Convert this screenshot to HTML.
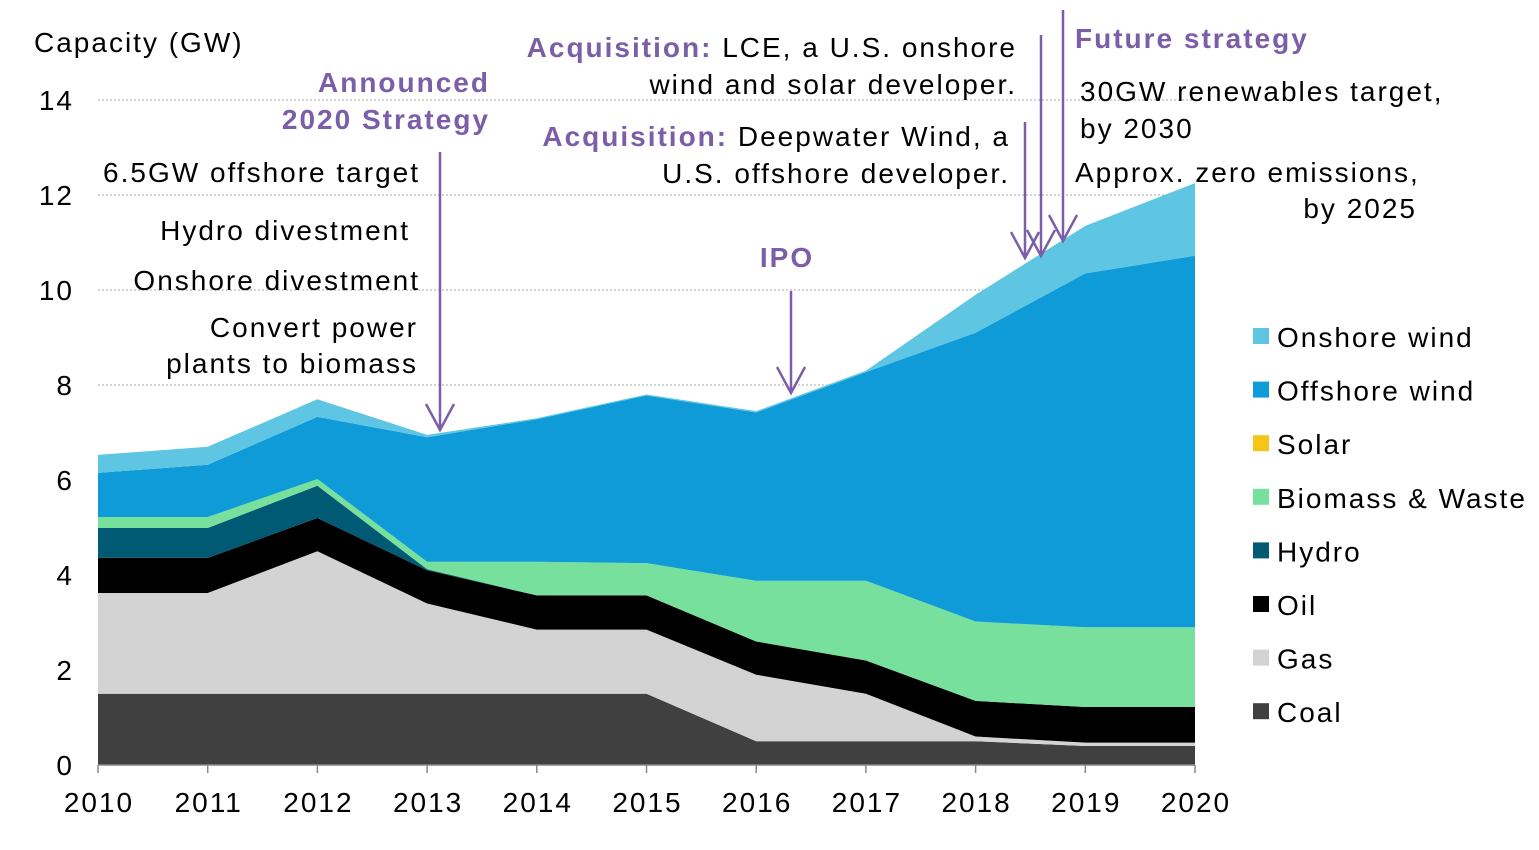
<!DOCTYPE html>
<html><head><meta charset="utf-8"><style>
body{margin:0;background:#fff;}
svg text{font-family:"Liberation Sans",Arial,sans-serif;letter-spacing:2px;}
</style></head><body>
<svg id="chart" width="1539" height="845" xmlns="http://www.w3.org/2000/svg">
<g id="grid"></g><g id="areas"></g><g id="axes"></g><g id="legend"></g>
<g id="annotations" font-size="28">
<text x="34" y="52" fill="#000">Capacity (GW)</text>
<text x="490" y="92" text-anchor="end" fill="#7b5ea7" font-weight="bold">Announced</text>
<text x="490" y="129" text-anchor="end" fill="#7b5ea7" font-weight="bold">2020 Strategy</text>
<text x="420" y="182" text-anchor="end">6.5GW offshore target</text>
<text x="410" y="240" text-anchor="end">Hydro divestment</text>
<text x="420" y="290" text-anchor="end">Onshore divestment</text>
<text x="418" y="337" text-anchor="end">Convert power</text>
<text x="418" y="373" text-anchor="end">plants to biomass</text>
<text x="787" y="267" text-anchor="middle" fill="#7b5ea7" font-weight="bold">IPO</text>
<text x="1017" y="57" text-anchor="end"><tspan fill="#7b5ea7" font-weight="bold">Acquisition:</tspan> LCE, a U.S. onshore</text>
<text x="1017" y="94" text-anchor="end">wind and solar developer.</text>
<text x="1010" y="146" text-anchor="end"><tspan fill="#7b5ea7" font-weight="bold">Acquisition:</tspan> Deepwater Wind, a</text>
<text x="1010" y="183" text-anchor="end">U.S. offshore developer.</text>
<text x="1075" y="48" fill="#7b5ea7" font-weight="bold">Future strategy</text>
<text x="1080" y="101">30GW renewables target,</text>
<text x="1080" y="138">by 2030</text>
<text x="1075" y="182">Approx. zero emissions,</text>
<text x="1417" y="218" text-anchor="end">by 2025</text>
<g stroke="#7b5ea7" stroke-width="2.5" fill="none">
<path d="M440 152V430M426 404L440 430L454 404"/>
<path d="M791 291V393M777 367L791 393L805 367"/>
<path d="M1025 122V258M1011 232L1025 258L1039 232"/>
<path d="M1041 35V256M1027 230L1041 256L1055 230"/>
<path d="M1063 10V241M1049 215L1063 241L1077 215"/>
</g></g>
</svg>
<script>
const years=[2010,2011,2012,2013,2014,2015,2016,2017,2018,2019,2020];
const coal=[1.5,1.5,1.5,1.5,1.5,1.5,0.5,0.5,0.5,0.4,0.4];
const gas=[2.12,2.12,3.0,1.9,1.35,1.35,1.4,1.0,0.1,0.07,0.07];
const oil=[0.74,0.74,0.7,0.7,0.72,0.72,0.7,0.7,0.75,0.75,0.75];
const hydro=[0.63,0.63,0.68,0.02,0,0,0,0,0,0,0];
const biomass=[0.23,0.23,0.14,0.16,0.71,0.68,1.28,1.68,1.67,1.68,1.68];
const solar=[0,0,0,0,0,0,0,0,0,0,0];
const offshore=[0.93,1.1,1.31,2.62,3.0,3.53,3.54,4.39,6.08,7.45,7.82];
const onshore=[0.38,0.38,0.37,0.05,0.02,0.02,0.03,0.03,0.8,1.0,1.53];
const yTicks=[0,2,4,6,8,10,12,14];
const series=[["Coal",coal,"#404040"],["Gas",gas,"#d3d3d3"],["Oil",oil,"#000000"],["Hydro",hydro,"#005a73"],["Biomass & Waste",biomass,"#77e09c"],["Solar",solar,"#f5c518"],["Offshore wind",offshore,"#0f9ad8"],["Onshore wind",onshore,"#5ec6e2"]];
const NS="http://www.w3.org/2000/svg";
const x=i=>98+(1195-98)*(years[i]-years[0])/(years[years.length-1]-years[0]);
const y=v=>765-v*(665/14);
function mk(t,a,p){const e=document.createElementNS(NS,t);for(const k in a)e.setAttribute(k,a[k]);p.appendChild(e);return e;}
const grid=document.getElementById('grid'),areas=document.getElementById('areas'),axes=document.getElementById('axes'),leg=document.getElementById('legend');
yTicks.forEach(t=>{
 if(t>0){const g=mk('line',{x1:98,x2:1195,y1:y(t),y2:y(t),stroke:'#aaa','stroke-dasharray':'2,2'},grid);
 
 }
 const l=mk('text',{x:74,y:y(t)+10,'text-anchor':'end','font-size':28},axes);l.textContent=t;
 
 
});
let base=years.map(()=>0);
series.forEach(([name,vals,col])=>{
 const top=base.map((b,i)=>b+vals[i]);
 let d='M'+top.map((v,i)=>x(i)+','+y(v)).join('L');
 for(let i=years.length-1;i>=0;i--)d+='L'+x(i)+','+y(base[i]);
 const p=mk('path',{d:d+'Z',fill:col},areas);
 
 
 base=top;
});
mk('line',{x1:98,x2:1195,y1:765,y2:765,stroke:'#888','stroke-width':1.5},axes);
years.forEach((yr,i)=>{
 mk('line',{x1:x(i),x2:x(i),y1:765,y2:773,stroke:'#888','stroke-width':1.5},axes);
 const t=mk('text',{x:x(i)+1,y:812,'text-anchor':'middle','font-size':28},axes);t.textContent=yr;
 
 
});
series.slice().reverse().forEach(([name,vals,col],k)=>{
 const cy=337+k*53.6;
 const g=mk('g',{},leg);
 
 
 mk('rect',{x:1253,y:cy-9,width:16,height:16,fill:col},g);
 const t=mk('text',{x:1277,y:cy+10,'font-size':28},g);t.textContent=name;
});
</script>
</body></html>
